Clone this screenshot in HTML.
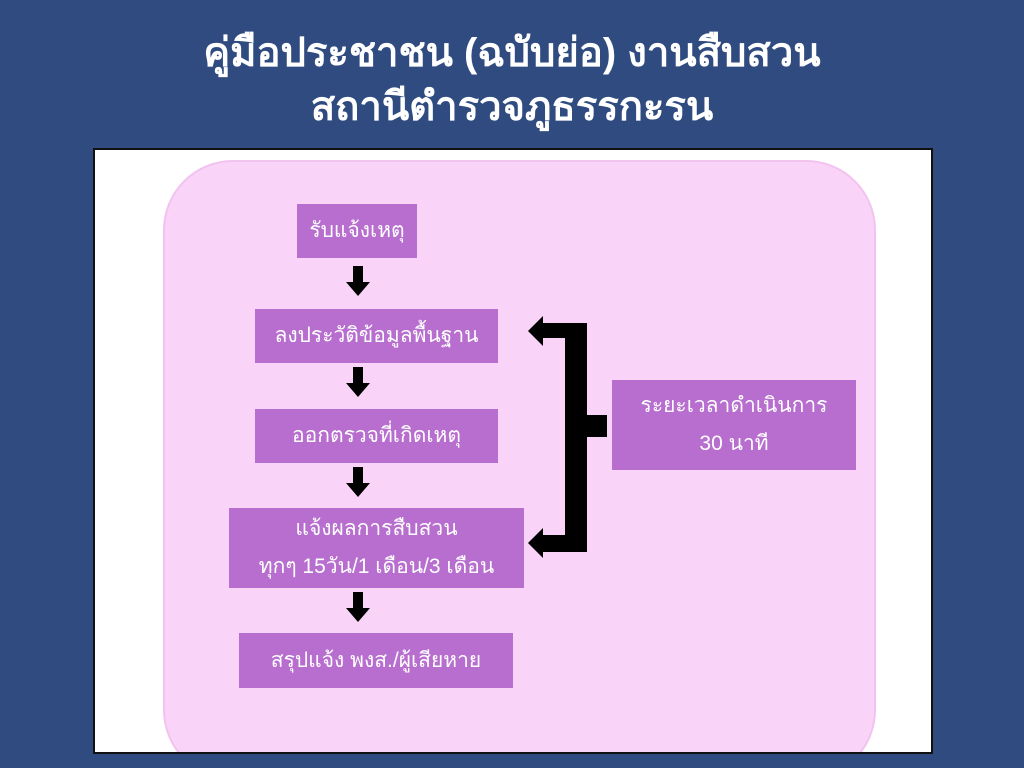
<!DOCTYPE html>
<html><head><meta charset="utf-8"><style>
html,body{margin:0;width:1024px;height:768px;overflow:hidden}
body{background:#2f4b80;position:relative;font-family:"Liberation Sans","DejaVu Sans",sans-serif}
.t{position:absolute;left:0;width:1024px;text-align:center;color:#fff;font-weight:bold;font-size:40px;line-height:50px}
.panel{position:absolute;left:93px;top:148px;width:836px;height:602px;background:#fff;border:2px solid #111;overflow:hidden}
.pink{position:absolute;left:68px;top:10px;width:713px;height:620px;background:#f9d3f8;border:2px solid #f2c3ef;border-radius:70px;box-sizing:border-box}
.b{position:absolute;background:#b76ecf;color:#fff;font-size:21px;display:flex;align-items:center;justify-content:center;text-align:center;line-height:38px}
.a{position:absolute}
</style></head><body>
<div class="t" style="top:28px">คู่มือประชาชน (ฉบับย่อ)  งานสืบสวน</div>
<div class="t" style="top:82px">สถานีตำรวจภูธรรกะรน</div>
<div class="panel"><div class="pink"></div></div>
<div class="b" style="left:297px;top:204px;width:120px;height:54px">รับแจ้งเหตุ</div>
<div class="b" style="left:255px;top:309px;width:243px;height:54px">ลงประวัติข้อมูลพื้นฐาน</div>
<div class="b" style="left:255px;top:409px;width:243px;height:54px">ออกตรวจที่เกิดเหตุ</div>
<div class="b" style="left:229px;top:508px;width:295px;height:80px">แจ้งผลการสืบสวน<br>ทุกๆ 15วัน/1 เดือน/3 เดือน</div>
<div class="b" style="left:239px;top:633px;width:274px;height:55px">สรุปแจ้ง พงส./ผู้เสียหาย</div>
<div class="b" style="left:612px;top:380px;width:244px;height:90px">ระยะเวลาดำเนินการ<br>30 นาที</div>
<svg class="a" style="left:0;top:0" width="1024" height="700">
<g fill="#000">
<path d="M353,266h10v16h7l-12,14l-12,-14h7z"/>
<path d="M353,367h10v16h7l-12,14l-12,-14h7z"/>
<path d="M353,467h10v16h7l-12,14l-12,-14h7z"/>
<path d="M353,592h10v16h7l-12,14l-12,-14h7z"/>
<path d="M587,323V552H543v6L528,543L543,528v7H565V338H543v8L528,331L543,316v7z"/>
<rect x="585" y="415" width="22" height="22"/>
</g></svg>
</body></html>
